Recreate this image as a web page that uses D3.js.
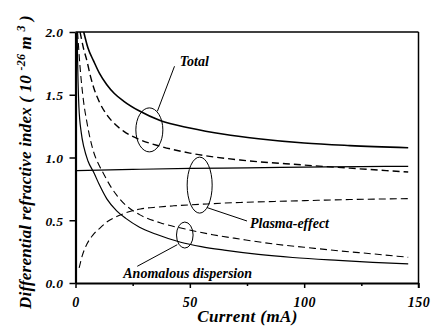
<!DOCTYPE html>
<html>
<head>
<meta charset="utf-8">
<script src="https://cdn.jsdelivr.net/npm/d3@7"></script>
<style>
  html, body { margin: 0; padding: 0; background: #fff; }
  svg { display: block; }
</style>
</head>
<body>
<div id="chart"></div>
<script>
// current (mA) vs differential refractive index (10^-26 m^3)
const totalSolid = [[3.6, 2.0], [5.5, 1.87], [7.9, 1.77], [10.5, 1.67], [13.7, 1.58], [17, 1.51], [21, 1.45],
    [28, 1.37], [37, 1.295], [50, 1.235], [65, 1.185], [80, 1.15], [100, 1.115], [120, 1.095], [145.5, 1.078]];
const totalDashed = [[2, 2.0], [3.5, 1.87], [5, 1.77], [6.5, 1.65], [7.9, 1.56], [10.5, 1.44], [13.7, 1.34],
    [17, 1.27], [21, 1.21], [28.4, 1.14], [37, 1.09], [50, 1.035], [72, 0.98], [100, 0.94], [120, 0.915], [145.5, 0.884]];
const plasmaSolid = [[0.5, 0.895], [25, 0.905], [50, 0.913], [75, 0.918], [100, 0.923], [125, 0.927], [145.5, 0.93]];
const plasmaDashed = [[1.6, 0.12], [3, 0.22], [5, 0.31], [7.5, 0.38], [10.8, 0.44], [14, 0.49], [18, 0.53],
    [23, 0.565], [28.4, 0.59], [36, 0.605], [43, 0.615], [57.6, 0.63], [72, 0.642], [87, 0.65], [100, 0.656],
    [120, 0.665], [145.5, 0.672]];
const anomalousSolid = [[0.7, 2.0], [1.0, 1.7], [1.5, 1.4], [2.5, 1.2], [3.7, 1.08], [5.5, 0.97], [8, 0.88],
    [10.5, 0.78], [13.7, 0.67], [18, 0.575], [22, 0.515], [28, 0.445], [35, 0.39], [46, 0.325], [55, 0.29],
    [65, 0.262], [80, 0.228], [95, 0.203], [115, 0.18], [130, 0.165], [145.5, 0.152]];
const anomalousDashed = [[0.9, 2.0], [2, 1.72], [3.5, 1.45], [5, 1.28], [6.4, 1.15], [8, 1.04], [10, 0.95],
    [12, 0.88], [15, 0.78], [18, 0.7], [22, 0.62], [28, 0.545], [37, 0.48], [48, 0.43], [60, 0.385], [72, 0.35],
    [87, 0.31], [100, 0.285], [116, 0.255], [130, 0.232], [145.5, 0.205]];

const xTicks = [0, 50, 100, 150];
const xMinorTicks = [25, 75, 125];
const yTicks = [0, 0.5, 1.0, 1.5, 2.0];
const labels = ["Total", "Plasma-effect", "Anomalous dispersion"];

const serif = "Liberation Serif";
const width = 431, height = 327;
const plot = {left: 75.5, right: 418.5, top: 32, bottom: 283};

const svg = d3.select("#chart")
    .append("svg")
    .attr("width", width)
    .attr("height", height);

const x = d3.scaleLinear().domain([0, 150]).range([plot.left, plot.right]);
const y = d3.scaleLinear().domain([0, 2]).range([plot.bottom, plot.top]);

function styleText(sel, size)
{
    return sel.attr("font-family", serif)
        .attr("font-weight", "bold")
        .attr("font-style", "italic")
        .attr("font-size", size)
        .attr("fill", "#000");
}

svg.append("clipPath").attr("id", "clip")
    .append("rect")
    .attr("x", plot.left).attr("y", plot.top)
    .attr("width", plot.right - plot.left).attr("height", plot.bottom - plot.top);

// frame top / right
svg.append("line")
    .attr("x1", plot.left).attr("x2", plot.right)
    .attr("y1", plot.top).attr("y2", plot.top)
    .attr("stroke", "#000").attr("stroke-width", 1.5);
svg.append("line")
    .attr("x1", plot.right).attr("x2", plot.right)
    .attr("y1", plot.top).attr("y2", plot.bottom + 5)
    .attr("stroke", "#000").attr("stroke-width", 1.5);

// x axis
svg.append("g")
    .attr("transform", `translate(0,${plot.bottom})`)
    .call(d3.axisBottom(x).tickValues(xMinorTicks).tickSize(3).tickSizeOuter(0).tickFormat(""))
    .call(g => g.select(".domain").remove())
    .call(g => g.selectAll(".tick line").attr("stroke-width", 1.5));
svg.append("g")
    .attr("transform", `translate(0,${plot.bottom})`)
    .call(d3.axisBottom(x).tickValues(xTicks).tickSize(5).tickSizeOuter(0).tickPadding(9).tickFormat(d3.format("d")))
    .call(g => g.select(".domain").attr("stroke-width", 2.2))
    .call(g => g.selectAll(".tick line").attr("stroke-width", 1.5))
    .call(g => styleText(g.selectAll("text"), 14).attr("letter-spacing", 0.5));

// y axis
svg.append("g")
    .attr("transform", `translate(${plot.left},0)`)
    .call(d3.axisLeft(y).tickValues(yTicks).tickSize(6).tickSizeOuter(0).tickPadding(6).tickFormat(d3.format(".1f")))
    .call(g => g.select(".domain").attr("stroke-width", 2.2))
    .call(g => g.selectAll(".tick line").attr("stroke-width", 1.5))
    .call(g => styleText(g.selectAll("text"), 13.5).attr("letter-spacing", 0.4).attr("dy", "0.36em"));

// curves
const line = d3.line()
    .x(d => x(d[0]))
    .y(d => y(d[1]))
    .curve(d3.curveMonotoneX);

const curves = svg.append("g").attr("clip-path", "url(#clip)");

function drawCurve(series, dashed, strokeWidth)
{
    curves.append("path")
        .datum(series)
        .attr("fill", "none")
        .attr("stroke", "#000")
        .attr("stroke-width", strokeWidth)
        .attr("stroke-dasharray", dashed ? "7,4" : null)
        .attr("d", line);
}

drawCurve(totalSolid, false, 1.6);
drawCurve(totalDashed, true, 1.4);
drawCurve(plasmaSolid, false, 1.2);
drawCurve(plasmaDashed, true, 1.1);
drawCurve(anomalousSolid, false, 1.2);
drawCurve(anomalousDashed, true, 1.1);

// annotations: ellipse + leader + label
function annotate(cx, cy, rx, ry, from, to, label, lx, ly)
{
    svg.append("ellipse")
        .attr("cx", x(cx)).attr("cy", y(cy))
        .attr("rx", rx).attr("ry", ry)
        .attr("fill", "none").attr("stroke", "#000").attr("stroke-width", 1);
    svg.append("line")
        .attr("x1", x(from[0])).attr("y1", y(from[1]))
        .attr("x2", x(to[0])).attr("y2", y(to[1]))
        .attr("stroke", "#000").attr("stroke-width", 1);
    styleText(svg.append("text"), 14)
        .attr("x", x(lx)).attr("y", y(ly))
        .text(label);
}

annotate(32.3, 1.22, 13.5, 22, [35.8, 1.368], [43.3, 1.727], labels[0], 45.6, 1.73);
annotate(54.3, 0.78, 12.5, 28, [57.5, 0.601], [75, 0.494], labels[1], 76.3, 0.44);
annotate(47.8, 0.382, 8.3, 13, [44.5, 0.305], [27, 0.133], labels[2], 20.9, 0.04);

// axis titles
styleText(svg.append("text"), 17)
    .attr("x", 247.5).attr("y", 322)
    .attr("text-anchor", "middle")
    .attr("letter-spacing", 0.4)
    .text("Current  (mA)");

const yTitle = styleText(svg.append("text"), 17)
    .attr("transform", "translate(31,162) rotate(-90)")
    .attr("text-anchor", "middle")
    .attr("letter-spacing", 0.2);
yTitle.append("tspan").text("Differential refractive index  ( 10 ");
yTitle.append("tspan").attr("dy", -6).attr("font-size", 12).text("-26");
yTitle.append("tspan").attr("dy", 6).text(" m ");
yTitle.append("tspan").attr("dy", -6).attr("font-size", 12).text("3");
yTitle.append("tspan").attr("dy", 6).text(" )");
</script>
</body>
</html>
